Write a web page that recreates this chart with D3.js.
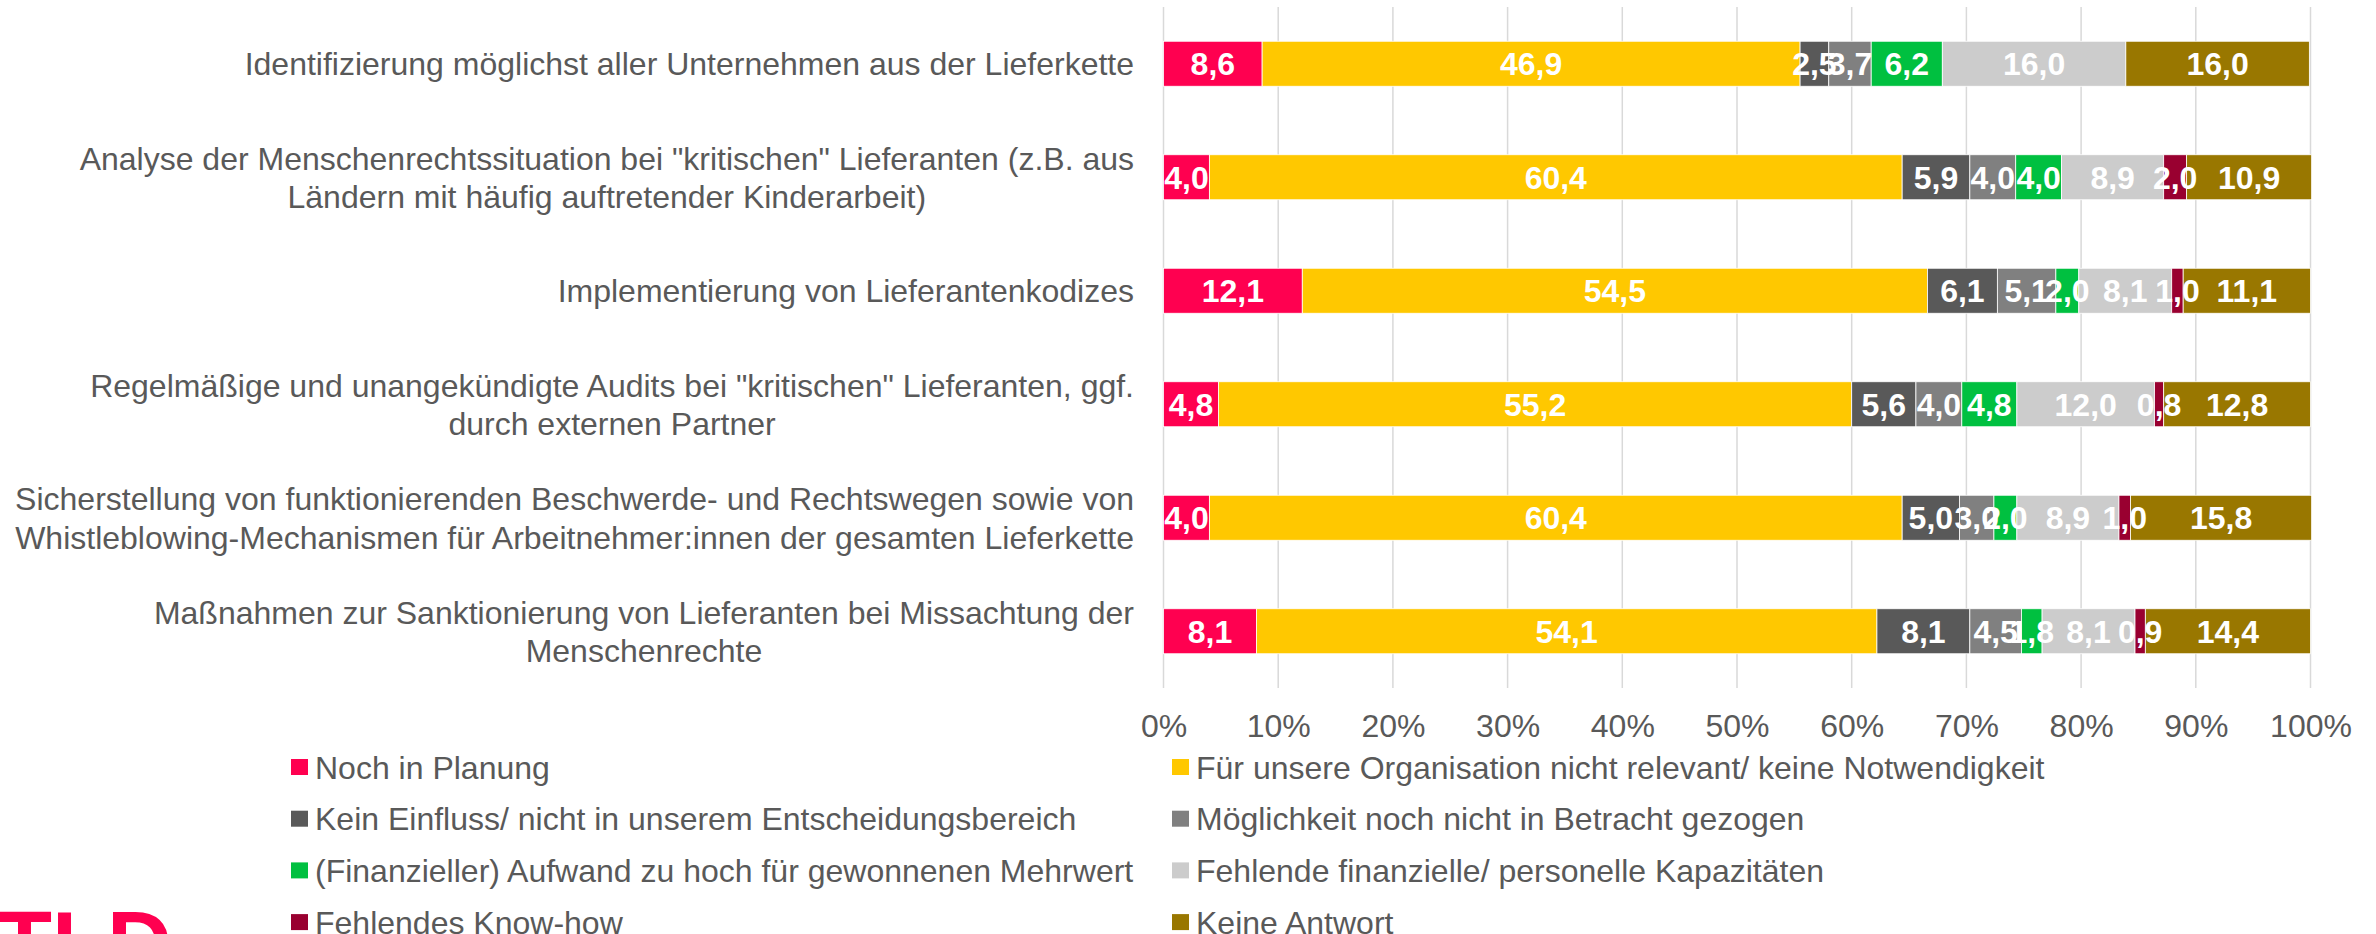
<!DOCTYPE html>
<html>
<head>
<meta charset="utf-8">
<script src="https://cdn.jsdelivr.net/npm/d3@7"></script>
<style>
  body { margin: 0; background: #fff; }
  svg text { font-family: "Liberation Sans", Arial, sans-serif; }
</style>
</head>
<body>
<div id="canvas"></div>
<script>
"use strict"

/* Data: categories (top to bottom), series names, values in percent */
let categories = [
  "Identifizierung möglichst aller Unternehmen aus der Lieferkette",
  "Analyse der Menschenrechtssituation bei \"kritischen\" Lieferanten (z.B. aus\nLändern mit häufig auftretender Kinderarbeit)",
  "Implementierung von Lieferantenkodizes",
  "Regelmäßige und unangekündigte Audits bei \"kritischen\" Lieferanten, ggf.\ndurch externen Partner",
  "Sicherstellung von funktionierenden Beschwerde- und Rechtswegen sowie von\nWhistleblowing-Mechanismen für Arbeitnehmer:innen der gesamten Lieferkette",
  "Maßnahmen zur Sanktionierung von Lieferanten bei Missachtung der\nMenschenrechte"
];

let seriesNames = [
  "Noch in Planung",
  "Für unsere Organisation nicht relevant/ keine Notwendigkeit",
  "Kein Einfluss/ nicht in unserem Entscheidungsbereich",
  "Möglichkeit noch nicht in Betracht gezogen",
  "(Finanzieller) Aufwand zu hoch für gewonnenen Mehrwert",
  "Fehlende finanzielle/ personelle Kapazitäten",
  "Fehlendes Know-how",
  "Keine Antwort"
];

let nochInPlanung   = [8.6, 4.0, 12.1, 4.8, 4.0, 8.1];
let nichtRelevant   = [46.9, 60.4, 54.5, 55.2, 60.4, 54.1];
let keinEinfluss    = [2.5, 5.9, 6.1, 5.6, 5.0, 8.1];
let nichtBetracht   = [3.7, 4.0, 5.1, 4.0, 3.0, 4.5];
let aufwandZuHoch   = [6.2, 4.0, 2.0, 4.8, 2.0, 1.8];
let keineKapazitaet = [16.0, 8.9, 8.1, 12.0, 8.9, 8.1];
let keinKnowHow     = [0, 2.0, 1.0, 0.8, 1.0, 0.9];
let keineAntwort    = [16.0, 10.9, 11.1, 12.8, 15.8, 14.4];

let xTicks = [0, 10, 20, 30, 40, 50, 60, 70, 80, 90, 100];

/* Drawing configuration */
let svgWidth = 2376;
let svgHeight = 934;
let plotLeft = 1163.5;
let plotRight = 2310.5;
let plotTop = 7;
let plotBottom = 688;
let textColor = "#595959";
let fontSize = 32;

let colors = ["#ff0050", "#ffc800", "#595959", "#808080",
              "#00c040", "#cccccc", "#990030", "#997700"];

let seriesValues = [nochInPlanung, nichtRelevant, keinEinfluss, nichtBetracht,
                    aufwandZuHoch, keineKapazitaet, keinKnowHow, keineAntwort];

/* Build rows for the stack */
let rows = categories.map(function (c, i) {
  let row = { cat: c };
  seriesNames.forEach(function (s, j) { row[s] = seriesValues[j][i]; });
  return row;
});

let stacked = d3.stack().keys(seriesNames)(rows);

let svg = d3.select("#canvas")
  .append("svg")
  .attr("width", svgWidth)
  .attr("height", svgHeight);

let xScale = d3.scaleLinear()
  .domain([0, 100])
  .range([plotLeft, plotRight]);

let yScale = d3.scaleBand()
  .domain(categories)
  .range([plotTop, plotBottom])
  .paddingInner(0.6035)
  .paddingOuter(0.30175);

let colorScale = d3.scaleOrdinal()
  .domain(seriesNames)
  .range(colors);

/* Vertical gridlines */
svg.append("g")
  .selectAll("line")
  .data(xTicks)
  .join("line")
  .attr("x1", function (d) { return xScale(d); })
  .attr("x2", function (d) { return xScale(d); })
  .attr("y1", plotTop)
  .attr("y2", plotBottom)
  .attr("stroke", "#d9d9d9")
  .attr("stroke-width", 1.5);

/* X axis tick labels */
let xAxis = d3.axisBottom(xScale)
  .tickValues(xTicks)
  .tickSize(0)
  .tickPadding(0)
  .tickFormat(function (d) { return d + "%"; });

let axisG = svg.append("g")
  .attr("transform", "translate(0," + (plotBottom + 26) + ")")
  .call(xAxis);
axisG.select(".domain").remove();
axisG.selectAll("text")
  .attr("fill", textColor)
  .attr("font-size", fontSize)
  .attr("font-family", "Liberation Sans, Arial, sans-serif");

/* Bars */
let groups = svg.append("g")
  .selectAll("g")
  .data(stacked)
  .join("g")
  .attr("fill", function (d) { return colorScale(d.key); });

groups.selectAll("rect")
  .data(function (d) { return d; })
  .join("rect")
  .attr("x", function (d) { return xScale(d[0]); })
  .attr("y", function (d) { return yScale(d.data.cat); })
  .attr("width", function (d) { return xScale(d[1]) - xScale(d[0]); })
  .attr("height", yScale.bandwidth())
  .attr("stroke", "#ffffff")
  .attr("stroke-width", 0.8);

/* Data labels, in their own layer above every bar */
let fmt = function (v) { return d3.format(".1f")(v).replace(".", ","); };

let labelGroups = svg.append("g")
  .selectAll("g")
  .data(stacked)
  .join("g");

labelGroups.selectAll("text")
  .data(function (d) { return d.filter(function (p) { return p[1] - p[0] > 0; }); })
  .join("text")
  .attr("x", function (d) { return xScale((d[0] + d[1]) / 2); })
  .attr("y", function (d) { return yScale(d.data.cat) + yScale.bandwidth() / 2; })
  .attr("dy", "0.36em")
  .attr("text-anchor", "middle")
  .attr("fill", "#ffffff")
  .attr("font-weight", "bold")
  .attr("font-size", fontSize)
  .text(function (d) { return fmt(d[1] - d[0]); });

/* Category labels: block right aligned, lines centred on each other */
let labelRight = 1134;
let lineHeight = 38.5;

categories.forEach(function (c) {
  let lines = c.split("\n");
  let t = svg.append("text")
    .attr("fill", textColor)
    .attr("font-size", fontSize)
    .attr("text-anchor", "middle");
  let cy = yScale(c) + yScale.bandwidth() / 2;
  lines.forEach(function (l, i) {
    t.append("tspan")
      .attr("y", cy + (i - (lines.length - 1) / 2) * lineHeight)
      .attr("dy", "0.36em")
      .text(l);
  });
  let maxW = d3.max(t.selectAll("tspan").nodes(), function (n) { return n.getComputedTextLength(); });
  t.selectAll("tspan").attr("x", labelRight - maxW / 2);
});

/* Legend, two columns */
let legendCols = [291, 1172];
let legendTop = 767;
let legendStep = 51.7;

let legend = svg.append("g")
  .selectAll("g")
  .data(seriesNames)
  .join("g")
  .attr("transform", function (d, i) {
    return "translate(" + legendCols[i % 2] + "," + (legendTop + Math.floor(i / 2) * legendStep) + ")";
  });

legend.append("rect")
  .attr("x", 0)
  .attr("y", -8)
  .attr("width", 17)
  .attr("height", 16)
  .attr("fill", function (d) { return colorScale(d); });

legend.append("text")
  .attr("x", 24)
  .attr("y", 0)
  .attr("dy", "0.36em")
  .attr("fill", textColor)
  .attr("font-size", fontSize)
  .text(function (d) { return d; });

/* Logo, cut off at the bottom edge */
svg.append("text")
  .attr("x", -3)
  .attr("y", 975)
  .attr("fill", "#ff0050")
  .attr("font-weight", "bold")
  .attr("font-size", 90)
  .text("TLD");
</script>
</body>
</html>
